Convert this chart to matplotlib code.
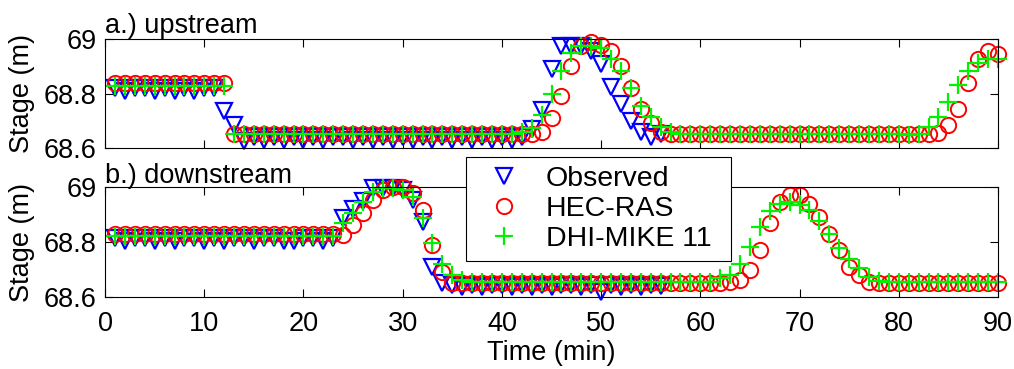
import matplotlib
matplotlib.use("Agg")
import matplotlib.pyplot as plt
from matplotlib.lines import Line2D

plt.rcParams['font.family'] = ['Liberation Sans', 'DejaVu Sans']

# time in minutes
t_model = list(range(1, 91))
t_obs = list(range(1, 57))

# a.) upstream
up_obs = [68.820, 68.810, 68.820, 68.820, 68.810, 68.820, 68.810, 68.820, 68.810, 68.820,
          68.820, 68.735, 68.685, 68.625, 68.640, 68.630, 68.640, 68.630, 68.640, 68.630,
          68.640, 68.630, 68.640, 68.640, 68.630, 68.640, 68.630, 68.640, 68.630, 68.640,
          68.630, 68.640, 68.630, 68.640, 68.630, 68.640, 68.630, 68.640, 68.630, 68.640,
          68.630, 68.640, 68.670, 68.740, 68.890, 68.975, 68.975, 68.975, 68.955, 68.910,
          68.825, 68.760, 68.700, 68.660, 68.640, 68.650]
up_hec = [68.838, 68.838, 68.838, 68.838, 68.838, 68.838, 68.838, 68.838, 68.838, 68.838,
          68.838, 68.838, 68.650, 68.650, 68.650, 68.650, 68.650, 68.650, 68.650, 68.650,
          68.650, 68.650, 68.650, 68.650, 68.650, 68.650, 68.650, 68.650, 68.650, 68.650,
          68.650, 68.650, 68.650, 68.650, 68.650, 68.650, 68.650, 68.650, 68.650, 68.650,
          68.650, 68.650, 68.650, 68.660, 68.710, 68.790, 68.900, 68.975, 68.990, 68.980,
          68.955, 68.900, 68.820, 68.745, 68.690, 68.660, 68.652, 68.652, 68.652, 68.652,
          68.652, 68.652, 68.652, 68.652, 68.652, 68.652, 68.652, 68.652, 68.652, 68.652,
          68.652, 68.652, 68.652, 68.652, 68.652, 68.652, 68.652, 68.652, 68.652, 68.652,
          68.652, 68.652, 68.650, 68.655, 68.684, 68.744, 68.840, 68.926, 68.956, 68.944]
up_dhi = [68.828, 68.828, 68.828, 68.828, 68.828, 68.828, 68.828, 68.828, 68.828, 68.828,
          68.828, 68.828, 68.653, 68.653, 68.653, 68.653, 68.653, 68.653, 68.653, 68.653,
          68.653, 68.653, 68.653, 68.653, 68.653, 68.653, 68.653, 68.653, 68.653, 68.653,
          68.653, 68.653, 68.653, 68.653, 68.653, 68.653, 68.653, 68.653, 68.653, 68.653,
          68.653, 68.660, 68.672, 68.720, 68.800, 68.884, 68.950, 68.975, 68.975, 68.968,
          68.926, 68.884, 68.820, 68.756, 68.714, 68.678, 68.660, 68.653, 68.653, 68.653,
          68.653, 68.653, 68.653, 68.653, 68.653, 68.653, 68.653, 68.653, 68.653, 68.653,
          68.653, 68.653, 68.653, 68.653, 68.653, 68.653, 68.653, 68.653, 68.653, 68.653,
          68.647, 68.653, 68.677, 68.714, 68.770, 68.830, 68.884, 68.914, 68.926, 68.926]

# b.) downstream
dn_obs = [68.815, 68.805, 68.815, 68.815, 68.805, 68.815, 68.805, 68.815, 68.815, 68.805,
          68.815, 68.805, 68.815, 68.815, 68.805, 68.815, 68.815, 68.805, 68.805, 68.815,
          68.815, 68.805, 68.813, 68.886, 68.920, 68.950, 68.995, 68.995, 68.995, 68.990,
          68.953, 68.874, 68.710, 68.650, 68.645, 68.635, 68.645, 68.635, 68.645, 68.645,
          68.635, 68.645, 68.635, 68.645, 68.635, 68.645, 68.645, 68.635, 68.645, 68.620,
          68.645, 68.635, 68.645, 68.635, 68.645, 68.640]
dn_hec = [68.829, 68.829, 68.829, 68.829, 68.829, 68.829, 68.829, 68.829, 68.829, 68.829,
          68.829, 68.829, 68.829, 68.829, 68.829, 68.829, 68.829, 68.829, 68.829, 68.829,
          68.829, 68.829, 68.829, 68.825, 68.862, 68.905, 68.953, 68.990, 69.000, 69.000,
          68.977, 68.916, 68.789, 68.690, 68.652, 68.652, 68.652, 68.652, 68.652, 68.652,
          68.652, 68.652, 68.652, 68.652, 68.652, 68.652, 68.652, 68.652, 68.652, 68.652,
          68.652, 68.652, 68.652, 68.652, 68.652, 68.652, 68.652, 68.652, 68.652, 68.652,
          68.652, 68.652, 68.656, 68.662, 68.698, 68.771, 68.868, 68.947, 68.971, 68.971,
          68.940, 68.890, 68.830, 68.771, 68.710, 68.680, 68.656, 68.652, 68.652, 68.652,
          68.652, 68.652, 68.652, 68.652, 68.652, 68.652, 68.652, 68.652, 68.652, 68.652]
dn_dhi = [68.822, 68.822, 68.822, 68.822, 68.822, 68.822, 68.822, 68.822, 68.822, 68.822,
          68.822, 68.822, 68.822, 68.822, 68.822, 68.822, 68.822, 68.822, 68.822, 68.822,
          68.822, 68.822, 68.822, 68.868, 68.904, 68.947, 68.983, 68.995, 68.995, 68.990,
          68.965, 68.886, 68.795, 68.720, 68.680, 68.662, 68.655, 68.655, 68.655, 68.655,
          68.655, 68.655, 68.655, 68.655, 68.655, 68.655, 68.655, 68.655, 68.655, 68.655,
          68.655, 68.655, 68.655, 68.655, 68.655, 68.655, 68.655, 68.655, 68.655, 68.655,
          68.655, 68.668, 68.680, 68.720, 68.783, 68.856, 68.913, 68.937, 68.945, 68.935,
          68.915, 68.875, 68.830, 68.777, 68.740, 68.704, 68.674, 68.660, 68.655, 68.655,
          68.655, 68.655, 68.655, 68.655, 68.655, 68.655, 68.655, 68.655, 68.655, 68.655]

series_names = ["Observed", "HEC-RAS", "DHI-MIKE 11"]
titles = ["a.) upstream", "b.) downstream"]
x_ticks = [0, 10, 20, 30, 40, 50, 60, 70, 80, 90]
y_ticks = [68.6, 68.8, 69.0]
y_ticklabels = ["68.6", "68.8", "69"]

obs_style = dict(marker='v', color='blue', ms=12, mfc='none', mew=1.6, ls='none')
hec_style = dict(marker='o', color='red', ms=11, mfc='none', mew=1.4, ls='none')
dhi_style = dict(marker='+', color=(0.0, 0.95, 0.0), ms=13, mew=1.6, ls='none')

fig = plt.figure(figsize=(10.14, 3.69), dpi=100)
ax_up = fig.add_axes([0.1036, 0.599, 0.8806, 0.295])
ax_dn = fig.add_axes([0.1036, 0.195, 0.8806, 0.298])

panels = [(ax_up, up_obs, up_hec, up_dhi), (ax_dn, dn_obs, dn_hec, dn_dhi)]
for i, (ax, obs, hec, dhi) in enumerate(panels):
    ax.plot(t_obs, obs, clip_on=False, **obs_style)
    ax.plot(t_model, hec, clip_on=False, **hec_style)
    ax.plot(t_model, dhi, clip_on=False, **dhi_style)
    ax.set_xlim(0, 90)
    ax.set_ylim(68.6, 69.0)
    ax.set_xticks(x_ticks)
    ax.set_yticks(y_ticks)
    ax.set_yticklabels(y_ticklabels)
    ax.tick_params(direction='in', top=True, right=True, length=6, width=0.8,
                   labelsize=19.5)
    ax.tick_params(axis='x', pad=10)
    ax.tick_params(axis='y', pad=6)
    ax.set_ylabel("Stage (m)", fontsize=19.5)
    ax.yaxis.set_label_coords(-0.079, 0.5)
    ax.set_title(titles[i], loc='left', fontsize=19.5, pad=3)
    for sp in ax.spines.values():
        sp.set_linewidth(0.8)

ax_up.set_xticklabels([])
ax_dn.set_xlabel("Time (min)", fontsize=19.5, labelpad=2)

handles = [Line2D([], [], **obs_style), Line2D([], [], **hec_style),
           Line2D([], [], **dhi_style)]
leg = fig.legend(handles, series_names, loc='upper left',
                 bbox_to_anchor=(0.4596, 0.298, 0.2613, 0.2765), mode='expand',
                 fontsize=20.5, frameon=True, fancybox=False, edgecolor='black',
                 framealpha=1, borderaxespad=0, borderpad=0.3, handlelength=2.1,
                 handletextpad=0.4, labelspacing=0.15)
leg.get_frame().set_linewidth(0.8)

plt.savefig("out.png", dpi=100)
